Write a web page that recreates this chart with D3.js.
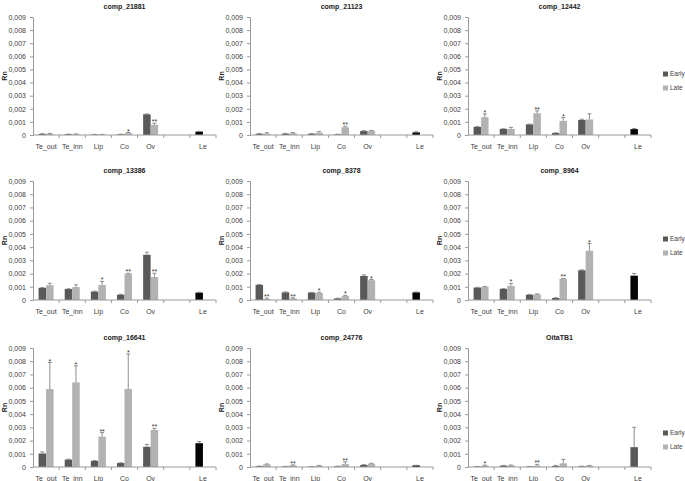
<!DOCTYPE html>
<html><head><meta charset="utf-8">
<script src="https://cdn.jsdelivr.net/npm/d3@7"></script>
<style>
html,body{margin:0;padding:0;background:#fff;}
svg text{font-family:"Liberation Sans",Arial,sans-serif;}
</style></head>
<body>
<svg id="c" width="685" height="481"></svg>
<script>
// ---------------- DATA ----------------
const categories = ["Te_out", "Te_inn", "Lip", "Co", "Ov", "", "Le"];
const tissueCats = ["Te_out", "Te_inn", "Lip", "Co", "Ov"];
const seriesNames = ["Early", "Late"];
const panelTitles = ["comp_21881", "comp_21123", "comp_12442",
                     "comp_13386", "comp_8378", "comp_8964",
                     "comp_16641", "comp_24776", "OitaTB1"];
const yTickValues = [0, 0.001, 0.002, 0.003, 0.004, 0.005, 0.006, 0.007, 0.008, 0.009];
const yAxisTitle = "Rn";

const earlyValues = [
  [0.00008, 0.00006, 0.00004, 0.00005, 0.00158],
  [0.00009, 0.00010, 0.00009, 0.00005, 0.00030],
  [0.00062, 0.00046, 0.00081, 0.00015, 0.00115],
  [0.00092, 0.00083, 0.00064, 0.00040, 0.00342],
  [0.00114, 0.00058, 0.00056, 0.00012, 0.00182],
  [0.00094, 0.00084, 0.00040, 0.00015, 0.00225],
  [0.00102, 0.00056, 0.00046, 0.00030, 0.00153],
  [0.00006, 0.00004, 0.00003, 0.00005, 0.00015],
  [0.00003, 0.00010, 0.00003, 0.00008, 0.00005]
];
const earlyErrors = [
  [0.00002, 0.00001, 0.00001, 0.00001, 0.00003],
  [0.00002, 0.00002, 0.00002, 0.00001, 0.00003],
  [0.00002, 0.00002, 0.00002, 0.00002, 0.00005],
  [0.00002, 0.00002, 0.00003, 0.00003, 0.00020],
  [0.00003, 0.00003, 0.00002, 0.00002, 0.00008],
  [0.00002, 0.00002, 0.00002, 0.00002, 0.00003],
  [0.00012, 0.00003, 0.00003, 0.00002, 0.00018],
  [0.00001, 0.00001, 0.00001, 0.00001, 0.00003],
  [0.00001, 0.00002, 0.00001, 0.00004, 0.00001]
];
const lateValues = [
  [0.00009, 0.00006, 0.00004, 0.00014, 0.00078],
  [0.00010, 0.00014, 0.00018, 0.00059, 0.00032],
  [0.00136, 0.00046, 0.00166, 0.00108, 0.00118],
  [0.00112, 0.00098, 0.00114, 0.00199, 0.00174],
  [0.00008, 0.00012, 0.00054, 0.00030, 0.00150],
  [0.00100, 0.00107, 0.00043, 0.00160, 0.00372],
  [0.00590, 0.00640, 0.00230, 0.00590, 0.00280],
  [0.00020, 0.00013, 0.00010, 0.00022, 0.00025],
  [0.00010, 0.00012, 0.00010, 0.00028, 0.00010]
];
const lateErrors = [
  [0.00003, 0.00002, 0.00001, 0.00005, 0.00012],
  [0.00008, 0.00005, 0.00008, 0.00008, 0.00003],
  [0.00025, 0.00012, 0.00018, 0.00025, 0.00044],
  [0.00015, 0.00017, 0.00027, 0.00003, 0.00028],
  [0.00006, 0.00005, 0.00005, 0.00005, 0.00005],
  [0.00003, 0.00018, 0.00003, 0.00003, 0.00055],
  [0.00200, 0.00125, 0.00030, 0.00265, 0.00012],
  [0.00003, 0.00003, 0.00002, 0.00017, 0.00003],
  [0.00004, 0.00003, 0.00010, 0.00030, 0.00002]
];
const significance = [
  ["", "", "", "*", "**"],
  ["", "", "", "**", ""],
  ["*", "", "**", "*", ""],
  ["", "", "*", "**", "**"],
  ["**", "**", "*", "*", "*"],
  ["", "*", "", "**", "*"],
  ["*", "*", "**", "*", "**"],
  ["", "**", "", "**", ""],
  ["*", "", "**", "", ""]
];
const leValues = [0.00026, 0.00020, 0.00045, 0.00056, 0.00058, 0.00184, 0.00180, 0.00012, 0.00150];
const leErrors = [0.00002, 0.00005, 0.00005, 0.00003, 0.00003, 0.00017, 0.00012, 0.00001, 0.00150];
const leSeries = ["Le", "Le", "Le", "Le", "Le", "Le", "Le", "Le", "Early"];

// ---------------- LAYOUT / STYLE ----------------
const colLeft = [33, 250, 468];
const plotWidth = 183;
const rowTop = [17, 181, 348];
const rowZero = [135, 300, 467];
const legendRows = [74, 239, 433];
const colors = {Early: "#595959", Late: "#b2b2b2", Le: "#050505"};
const textColor = "#404040";
const axisColor = "#9a9a9a";
const errColor = "#808080";

const svg = d3.select("#c");

panelTitles.forEach((title, i) => {
  const col = i % 3, row = Math.floor(i / 3);
  const x0 = colLeft[col], x1 = x0 + plotWidth;
  const yT = rowTop[row], yZ = rowZero[row];
  const g = svg.append("g");

  const x = d3.scaleBand().domain(categories.map((c, k) => k)).range([x0, x1]).padding(0);
  const xs = d3.scaleBand().domain(seriesNames).range([-7.5, 7.5]).padding(0);
  const y = d3.scaleLinear().domain([0, 0.009]).range([yZ, yT]);

  // title
  g.append("text").attr("x", (x0 + x1) / 2).attr("y", yT - 8)
    .attr("text-anchor", "middle").attr("font-size", 7).attr("font-weight", "bold")
    .attr("fill", "#222").text(title);

  // y axis
  const ya = d3.axisLeft(y).tickValues(yTickValues).tickSize(3).tickPadding(4)
    .tickFormat(d => d === 0 ? "0" : d3.format(".3f")(d).replace(".", ","));
  const yg = g.append("g").attr("transform", `translate(${x0},0)`).call(ya);
  yg.select(".domain").attr("stroke", axisColor);
  yg.selectAll(".tick line").attr("stroke", axisColor);
  yg.selectAll(".tick text").attr("font-size", 7).attr("fill", textColor)
    .attr("font-family", "Liberation Sans, Arial, sans-serif");

  // y title
  g.append("text").attr("transform", `translate(${x0 - 26},${(yT + yZ) / 2}) rotate(-90)`)
    .attr("text-anchor", "middle").attr("font-size", 7).attr("font-weight", "bold")
    .attr("fill", "#222").text(yAxisTitle);

  // bars data
  const bars = [];
  tissueCats.forEach((c, k) => {
    bars.push({k, s: "Early", v: earlyValues[i][k], e: earlyErrors[i][k], c: colors.Early});
    bars.push({k, s: "Late", v: lateValues[i][k], e: lateErrors[i][k], c: colors.Late});
  });
  const leIdx = categories.indexOf("Le");
  bars.push({k: leIdx, s: "Early", v: leValues[i], e: leErrors[i], c: colors[leSeries[i]]});

  const bx = d => x(d.k) + x.bandwidth() / 2 + xs(d.s);
  g.selectAll("rect.bar").data(bars).enter().append("rect")
    .attr("x", bx).attr("width", xs.bandwidth())
    .attr("y", d => y(d.v)).attr("height", d => yZ - y(d.v))
    .attr("fill", d => d.c);

  // error bars (plus direction)
  bars.forEach(d => {
    const cx = bx(d) + xs.bandwidth() / 2;
    const yt = y(d.v + d.e);
    g.append("line").attr("x1", cx).attr("x2", cx).attr("y1", y(d.v)).attr("y2", yt)
      .attr("stroke", errColor).attr("stroke-width", 0.9);
    g.append("line").attr("x1", cx - 2).attr("x2", cx + 2).attr("y1", yt).attr("y2", yt)
      .attr("stroke", errColor).attr("stroke-width", 0.9);
  });

  // significance marks above Late bars
  tissueCats.forEach((c, k) => {
    const s = significance[i][k];
    if (!s) return;
    const cx = x(k) + x.bandwidth() / 2 + xs("Late") + xs.bandwidth() / 2;
    g.append("text").attr("x", cx).attr("y", y(lateValues[i][k] + lateErrors[i][k]) + 1)
      .attr("text-anchor", "middle").attr("font-size", 7).attr("fill", "#333")
      .text(s);
  });

  // x axis
  g.append("line").attr("x1", x0).attr("x2", x1).attr("y1", yZ).attr("y2", yZ)
    .attr("stroke", axisColor);
  const xa = d3.axisBottom(x).tickSize(0).tickPadding(9).tickFormat(k => categories[k]);
  const xg = g.append("g").attr("transform", `translate(0,${yZ})`).call(xa);
  xg.select(".domain").remove();
  xg.selectAll(".tick text").attr("font-size", 7).attr("fill", textColor)
    .attr("font-family", "Liberation Sans, Arial, sans-serif");
  categories.forEach((c, k) => {
    const bxp = x(k) + x.bandwidth();
    g.append("line").attr("x1", bxp).attr("x2", bxp).attr("y1", yZ).attr("y2", yZ + 3)
      .attr("stroke", axisColor);
  });

  // legend (right column)
  if (col === 2) {
    seriesNames.forEach((s, j) => {
      const ly = legendRows[row] + j * 14;
      g.append("rect").attr("x", 663).attr("y", ly - 2.5).attr("width", 5).attr("height", 5)
        .attr("fill", colors[s]);
      g.append("text").attr("x", 670).attr("y", ly + 2.3).attr("font-size", 6.5)
        .attr("fill", textColor).text(s);
    });
  }
});
</script>
</body></html>
